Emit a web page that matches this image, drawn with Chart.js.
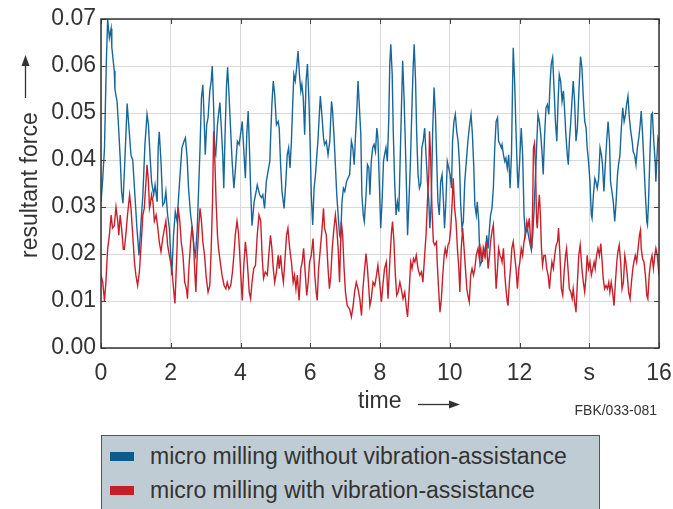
<!DOCTYPE html>
<html>
<head>
<meta charset="utf-8">
<script src="https://cdn.jsdelivr.net/npm/chart.js@4.4.1/dist/chart.umd.min.js"></script>
<style>
  html, body { margin: 0; padding: 0; background: #fff; }
  #wrap { position: relative; width: 673px; height: 509px; overflow: hidden; }
  #legendBox {
    position: absolute; left: 101px; top: 435px; width: 499px; height: 90px;
    background: #c0ccd4; border: 1px solid #555; box-sizing: border-box;
    font-family: "Liberation Sans", Arial, sans-serif; font-size: 23px; color: #333;
  }
  .swatch { position: absolute; left: 8px; width: 24px; height: 9px; }
  .label { position: absolute; left: 48px; height: 30px; line-height: 30px; white-space: nowrap; }
</style>
</head>
<body>
<div id="wrap">
  <canvas id="chart" width="673" height="509"></canvas>
  <div id="legendBox">
    <div class="swatch" style="top:16px;background:#0e5a8a"></div>
    <div class="label" style="top:5px">micro milling without vibration-assistance</div>
    <div class="swatch" style="top:50px;background:#c41e26"></div>
    <div class="label" style="top:39px">micro milling with vibration-assistance</div>
  </div>
</div>
<script>
// time in s, resultant force
const blueTime = [0.00,0.05,0.10,0.15,0.19,0.24,0.29,0.31,0.38,0.40,0.46,0.50,0.55,0.59,0.63,0.69,0.75,0.81,0.86,0.91,0.96,1.03,1.09,1.15,1.20,1.26,1.32,1.36,1.41,1.45,1.51,1.55,1.61,1.64,1.67,1.72,1.77,1.82,1.86,1.91,1.96,2.03,2.08,2.13,2.18,
  2.21,2.26,2.32,2.38,2.42,2.47,2.51,2.57,2.61,2.67,2.71,2.76,2.80,2.84,2.88,2.92,2.95,2.99,3.03,3.07,3.12,3.16,3.19,3.23,3.26,3.29,3.34,3.37,3.41,3.45,3.49,3.52,3.56,3.60,3.63,3.67,3.71,3.76,3.81,3.85,3.91,3.96,4.00,4.05,4.09,4.14,4.18,4.22,4.25,4.29,4.33,4.39,4.45,4.48,4.55,4.60,
  4.64,4.69,4.74,4.79,4.84,4.87,4.90,4.94,4.98,5.03,5.08,5.11,5.15,5.19,5.25,5.30,5.34,5.38,5.42,5.46,5.50,5.53,5.57,5.61,5.65,5.69,5.73,5.76,5.80,5.84,5.88,5.92,5.96,6.00,6.03,6.07,6.11,6.15,6.19,6.22,6.26,6.29,6.34,6.38,6.41,6.46,6.51,6.56,6.61,6.64,6.68,6.72,6.76,6.80,
  6.84,6.87,6.91,6.95,6.99,7.04,7.08,7.13,7.18,7.22,7.26,7.29,7.33,7.37,7.41,7.45,7.48,7.52,7.55,7.60,7.64,7.68,7.71,7.75,7.79,7.83,7.87,7.91,7.94,7.98,8.02,8.06,8.10,8.13,8.17,8.21,8.25,8.28,8.31,8.35,8.38,8.42,8.46,8.50,8.54,8.57,8.61,8.65,8.69,8.73,8.77,8.79,8.83,8.87,8.91,8.95,8.98,9.02,9.05,
  9.09,9.13,9.17,9.20,9.24,9.28,9.32,9.36,9.40,9.43,9.47,9.51,9.55,9.59,9.63,9.66,9.70,9.74,9.78,9.82,9.85,9.89,9.93,9.97,10.01,10.05,10.08,10.12,10.16,10.20,10.24,10.28,10.31,10.35,10.39,10.43,10.49,10.52,10.57,10.61,10.65,10.69,10.72,10.76,10.79,10.83,10.87,10.91,10.95,10.98,11.02,11.06,11.10,11.14,11.17,11.21,11.25,11.29,11.33,11.37,11.40,11.44,
  11.48,11.50,11.54,11.58,11.61,11.65,11.69,11.73,11.77,11.80,11.82,11.86,11.90,11.94,11.96,12.00,12.03,12.05,12.09,12.13,12.17,12.21,12.24,12.29,12.34,12.38,12.42,12.46,12.49,12.53,12.57,12.61,12.65,12.68,12.72,12.76,12.80,12.84,12.88,12.91,12.95,12.99,13.03,13.07,13.11,13.14,13.18,13.22,13.26,13.30,13.33,13.37,13.40,13.43,13.47,13.51,13.54,13.58,13.62,13.66,13.70,
  13.75,13.79,13.83,13.87,13.91,13.94,13.98,14.02,14.06,14.08,14.12,14.16,14.19,14.23,14.27,14.31,14.35,14.38,14.42,14.46,14.50,14.54,14.58,14.61,14.65,14.69,14.73,14.77,14.81,14.84,14.88,14.92,14.96,15.00,15.04,15.07,15.11,15.15,15.19,15.23,15.26,15.30,15.34,15.38,15.42,15.46,15.49,15.53,15.57,15.61,15.65,15.67,15.70,15.74,15.78,15.81,15.85,15.89,15.91,15.94,15.97,16.00];
const blueForce = [0.0310,0.0360,0.0425,0.0600,0.0700,0.0660,0.0680,0.0640,0.0590,0.0550,0.0525,0.0475,0.0405,0.0333,0.0308,0.0410,0.0520,0.0460,0.0410,0.0400,0.0340,0.0255,0.0197,0.0270,0.0325,0.0433,0.0497,0.0475,0.0404,0.0354,0.0326,0.0347,0.0311,0.0426,0.0460,0.0397,0.0304,0.0310,0.0333,0.0283,0.0255,0.0155,0.0240,0.0290,0.0270,
  0.0304,0.0361,0.0426,0.0440,0.0447,0.0404,0.0340,0.0283,0.0260,0.0212,0.0197,0.0255,0.0340,0.0426,0.0532,0.0560,0.0504,0.0411,0.0475,0.0490,0.0547,0.0568,0.0600,0.0511,0.0418,0.0411,0.0475,0.0497,0.0522,0.0468,0.0411,0.0340,0.0461,0.0560,0.0597,0.0540,0.0475,0.0397,0.0340,0.0376,0.0440,0.0433,0.0454,0.0482,0.0426,0.0361,0.0454,0.0504,0.0440,0.0340,0.0260,0.0311,0.0333,0.0347,0.0326,0.0320,
  0.0326,0.0297,0.0354,0.0376,0.0397,0.0461,0.0518,0.0568,0.0540,0.0475,0.0482,0.0468,0.0390,0.0333,0.0297,0.0354,0.0411,0.0426,0.0383,0.0440,0.0525,0.0582,0.0568,0.0597,0.0632,0.0582,0.0547,0.0561,0.0532,0.0454,0.0568,0.0604,0.0532,0.0426,0.0326,0.0262,0.0340,0.0369,0.0411,0.0440,0.0497,0.0536,0.0490,0.0447,0.0433,0.0440,0.0411,0.0440,0.0525,0.0504,0.0454,0.0390,0.0326,0.0283,
  0.0240,0.0233,0.0311,0.0340,0.0333,0.0354,0.0361,0.0369,0.0440,0.0426,0.0390,0.0440,0.0497,0.0568,0.0511,0.0454,0.0326,0.0283,0.0269,0.0326,0.0390,0.0383,0.0326,0.0397,0.0426,0.0433,0.0418,0.0468,0.0447,0.0354,0.0255,0.0311,0.0397,0.0411,0.0426,0.0397,0.0482,0.0604,0.0646,0.0582,0.0461,0.0354,0.0283,0.0311,0.0290,0.0376,0.0497,0.0611,0.0532,0.0426,0.0311,0.0240,0.0311,0.0390,0.0497,0.0597,0.0646,0.0568,0.0461,
  0.0370,0.0340,0.0350,0.0426,0.0440,0.0468,0.0411,0.0354,0.0311,0.0255,0.0311,0.0461,0.0554,0.0497,0.0390,0.0311,0.0283,0.0354,0.0369,0.0311,0.0255,0.0311,0.0397,0.0383,0.0369,0.0340,0.0440,0.0482,0.0497,0.0461,0.0440,0.0390,0.0311,0.0255,0.0269,0.0354,0.0411,0.0440,0.0475,0.0497,0.0454,0.0383,0.0304,0.0283,0.0311,0.0269,0.0176,0.0183,0.0197,0.0212,0.0197,0.0240,0.0212,0.0255,0.0283,0.0297,0.0340,0.0426,0.0482,0.0490,0.0440,0.0433,
  0.0426,0.0433,0.0411,0.0397,0.0404,0.0383,0.0411,0.0340,0.0411,0.0554,0.0639,0.0568,0.0461,0.0369,0.0340,0.0390,0.0440,0.0468,0.0411,0.0283,0.0240,0.0255,0.0247,0.0226,0.0208,0.0240,0.0297,0.0369,0.0426,0.0497,0.0482,0.0454,0.0411,0.0369,0.0454,0.0511,0.0518,0.0497,0.0568,0.0604,0.0618,0.0554,0.0482,0.0440,0.0532,0.0582,0.0568,0.0525,0.0547,0.0497,0.0454,0.0411,0.0390,0.0440,0.0482,0.0532,0.0568,0.0525,0.0440,0.0468,0.0540,
  0.0620,0.0597,0.0532,0.0482,0.0468,0.0426,0.0397,0.0354,0.0283,0.0276,0.0326,0.0361,0.0354,0.0340,0.0361,0.0426,0.0411,0.0390,0.0333,0.0390,0.0440,0.0482,0.0440,0.0354,0.0333,0.0311,0.0269,0.0311,0.0369,0.0390,0.0411,0.0468,0.0511,0.0482,0.0497,0.0518,0.0536,0.0490,0.0461,0.0440,0.0418,0.0411,0.0390,0.0426,0.0447,0.0475,0.0504,0.0454,0.0390,0.0326,0.0269,0.0262,0.0311,0.0411,0.0497,0.0500,0.0440,0.0397,0.0354,0.0404,0.0447,0.0440];

const redTime = [0.00,0.05,0.10,0.14,0.19,0.24,0.29,0.33,0.38,0.43,0.48,0.51,0.55,0.59,0.64,0.67,0.72,0.76,0.82,0.86,0.91,0.96,1.00,1.05,1.10,1.15,1.20,1.24,1.29,1.32,1.36,1.39,1.41,1.45,1.49,1.53,1.58,1.63,1.67,1.72,1.77,1.82,1.86,1.91,1.96,2.03,2.08,2.12,2.18,
  2.21,2.26,2.30,2.35,2.40,2.45,2.48,2.52,2.57,2.61,2.65,2.69,2.72,2.75,2.80,2.84,2.88,2.92,2.97,3.02,3.07,3.12,3.16,3.20,3.23,3.26,3.30,3.34,3.37,3.42,3.47,3.53,3.58,3.62,3.67,3.72,3.77,3.81,3.85,3.90,3.94,3.98,4.02,4.05,4.09,4.14,4.18,4.22,4.25,4.29,4.33,4.38,4.43,4.48,4.53,4.58,
  4.62,4.66,4.71,4.77,4.81,4.86,4.90,4.94,4.98,5.03,5.08,5.11,5.15,5.19,5.23,5.27,5.32,5.36,5.41,5.46,5.51,5.55,5.59,5.63,5.68,5.73,5.77,5.81,5.86,5.90,5.94,5.98,6.03,6.08,6.13,6.17,6.20,6.24,6.29,6.34,6.38,6.41,6.46,6.51,6.55,6.59,6.63,6.68,6.72,6.76,6.80,6.84,
  6.89,6.93,6.97,7.01,7.06,7.13,7.18,7.23,7.27,7.32,7.37,7.42,7.47,7.51,7.56,7.60,7.64,7.68,7.71,7.75,7.80,7.85,7.90,7.94,7.99,8.04,8.09,8.13,8.18,8.23,8.28,8.33,8.36,8.40,8.44,8.48,8.52,8.57,8.61,8.66,8.71,8.76,8.79,8.84,8.88,8.92,8.96,9.00,9.04,
  9.09,9.14,9.19,9.23,9.28,9.32,9.36,9.40,9.42,9.45,9.49,9.53,9.57,9.62,9.64,9.68,9.72,9.76,9.80,9.84,9.87,9.91,9.95,9.99,10.03,10.07,10.10,10.14,10.18,10.22,10.26,10.29,10.33,10.37,10.41,10.45,10.49,10.52,10.56,10.60,10.64,10.68,10.72,10.76,10.81,10.85,10.89,10.93,10.96,11.00,11.05,11.10,11.14,11.17,11.21,11.25,11.29,11.33,11.37,11.40,11.44,
  11.48,11.50,11.54,11.58,11.61,11.65,11.67,11.71,11.75,11.78,11.82,11.86,11.90,11.94,11.98,12.01,12.05,12.09,12.13,12.17,12.21,12.24,12.28,12.32,12.35,12.38,12.40,12.43,12.46,12.49,12.51,12.54,12.57,12.60,12.63,12.66,12.70,12.74,12.78,12.82,12.86,12.89,12.93,12.97,13.01,13.05,13.09,13.12,13.16,13.20,13.24,13.28,13.32,13.35,13.39,13.43,13.47,13.51,13.54,13.58,13.62,13.66,13.70,13.74,
  13.79,13.83,13.87,13.91,13.94,13.98,14.02,14.06,14.10,14.14,14.17,14.21,14.25,14.29,14.33,14.37,14.40,14.44,14.48,14.52,14.56,14.59,14.63,14.67,14.71,14.75,14.79,14.82,14.86,14.90,14.94,14.98,15.02,15.05,15.09,15.13,15.17,15.21,15.25,15.28,15.32,15.36,15.40,15.44,15.47,15.49,15.53,15.57,15.61,15.65,15.68,15.72,15.76,15.80,15.84,15.88,15.91,15.95,16.00];
const redForce = [0.0155,0.0140,0.0100,0.0140,0.0210,0.0240,0.0283,0.0255,0.0260,0.0300,0.0270,0.0240,0.0283,0.0255,0.0210,0.0210,0.0247,0.0283,0.0326,0.0297,0.0240,0.0183,0.0155,0.0133,0.0162,0.0219,0.0283,0.0297,0.0354,0.0390,0.0354,0.0297,0.0304,0.0326,0.0311,0.0270,0.0283,0.0255,0.0226,0.0205,0.0233,0.0255,0.0270,0.0219,0.0197,0.0169,0.0126,0.0095,0.0210,
  0.0300,0.0270,0.0226,0.0197,0.0140,0.0126,0.0105,0.0169,0.0226,0.0260,0.0226,0.0162,0.0119,0.0183,0.0255,0.0297,0.0270,0.0226,0.0197,0.0148,0.0119,0.0133,0.0212,0.0319,0.0461,0.0411,0.0311,0.0240,0.0212,0.0183,0.0155,0.0133,0.0126,0.0140,0.0126,0.0133,0.0162,0.0197,0.0240,0.0270,0.0247,0.0197,0.0140,0.0101,0.0169,0.0226,0.0197,0.0155,0.0119,0.0105,0.0140,0.0169,0.0176,0.0240,0.0283,0.0270,
  0.0197,0.0148,0.0162,0.0155,0.0197,0.0240,0.0212,0.0169,0.0140,0.0162,0.0197,0.0169,0.0197,0.0162,0.0140,0.0183,0.0240,0.0255,0.0212,0.0183,0.0140,0.0155,0.0126,0.0155,0.0101,0.0169,0.0183,0.0212,0.0155,0.0112,0.0140,0.0183,0.0197,0.0233,0.0155,0.0119,0.0101,0.0169,0.0212,0.0255,0.0297,0.0255,0.0240,0.0169,0.0126,0.0155,0.0212,0.0255,0.0283,0.0255,0.0212,0.0140,
  0.0269,0.0240,0.0169,0.0119,0.0090,0.0083,0.0066,0.0090,0.0119,0.0140,0.0126,0.0105,0.0069,0.0126,0.0169,0.0201,0.0169,0.0126,0.0090,0.0105,0.0140,0.0133,0.0155,0.0176,0.0140,0.0098,0.0140,0.0169,0.0183,0.0105,0.0183,0.0247,0.0269,0.0226,0.0155,0.0112,0.0119,0.0140,0.0126,0.0105,0.0119,0.0083,0.0066,0.0126,0.0183,0.0169,0.0190,0.0183,0.0197,
  0.0169,0.0155,0.0162,0.0140,0.0197,0.0240,0.0311,0.0369,0.0461,0.0411,0.0297,0.0226,0.0219,0.0226,0.0183,0.0126,0.0076,0.0105,0.0155,0.0197,0.0212,0.0197,0.0219,0.0226,0.0255,0.0311,0.0361,0.0297,0.0269,0.0212,0.0169,0.0119,0.0212,0.0255,0.0212,0.0169,0.0126,0.0112,0.0098,0.0155,0.0169,0.0155,0.0169,0.0197,0.0212,0.0190,0.0212,0.0183,0.0212,0.0197,0.0226,0.0169,0.0197,0.0226,0.0247,0.0262,0.0197,0.0126,0.0169,0.0212,0.0197,
  0.0190,0.0183,0.0212,0.0155,0.0126,0.0098,0.0090,0.0140,0.0176,0.0212,0.0226,0.0197,0.0169,0.0126,0.0169,0.0183,0.0212,0.0197,0.0226,0.0247,0.0269,0.0255,0.0276,0.0226,0.0212,0.0311,0.0426,0.0436,0.0383,0.0269,0.0255,0.0297,0.0326,0.0283,0.0212,0.0176,0.0197,0.0197,0.0169,0.0155,0.0126,0.0155,0.0183,0.0169,0.0197,0.0219,0.0226,0.0255,0.0197,0.0126,0.0112,0.0162,0.0197,0.0212,0.0169,0.0126,0.0119,0.0105,0.0126,0.0098,0.0076,0.0140,0.0197,0.0219,
  0.0169,0.0140,0.0119,0.0155,0.0197,0.0169,0.0183,0.0155,0.0169,0.0183,0.0169,0.0197,0.0212,0.0197,0.0222,0.0183,0.0148,0.0126,0.0133,0.0126,0.0140,0.0119,0.0140,0.0119,0.0090,0.0140,0.0183,0.0204,0.0219,0.0183,0.0126,0.0140,0.0197,0.0183,0.0155,0.0119,0.0105,0.0140,0.0169,0.0183,0.0197,0.0183,0.0212,0.0240,0.0251,0.0212,0.0190,0.0183,0.0155,0.0112,0.0105,0.0155,0.0183,0.0197,0.0169,0.0197,0.0212,0.0197,0.0155];

const xMin = 0, xMax = 16, xStep = 2;
const yMin = 0, yMax = 0.07, yStep = 0.01;

function toPoints(times, values) {
  return times.map((t, i) => ({ x: t, y: values[i] }));
}

const textColor = '#333';
const fontFamily = '"Liberation Sans", Arial, sans-serif';

/* frame, inner tick marks and axis titles with arrows */
const framePlugin = {
  id: 'frame',
  afterDraw(chart) {
    const ctx = chart.ctx;
    const a = chart.chartArea;
    const xs = chart.scales.x, ys = chart.scales.y;
    ctx.save();
    ctx.strokeStyle = '#444';
    ctx.lineWidth = 1;
    ctx.beginPath();
    xs.ticks.forEach(t => {
      const px = Math.round(xs.getPixelForValue(t.value)) + 0.5;
      ctx.moveTo(px, a.top); ctx.lineTo(px, a.top + 5);
      ctx.moveTo(px, a.bottom); ctx.lineTo(px, a.bottom - 5);
    });
    ys.ticks.forEach(t => {
      const py = Math.round(ys.getPixelForValue(t.value)) + 0.5;
      ctx.moveTo(a.left, py); ctx.lineTo(a.left + 5, py);
      ctx.moveTo(a.right, py); ctx.lineTo(a.right - 5, py);
    });
    ctx.stroke();
    ctx.strokeStyle = '#333';
    ctx.lineWidth = 1.5;
    ctx.strokeRect(a.left, a.top, a.right - a.left, a.bottom - a.top);

    ctx.fillStyle = textColor;
    ctx.font = '23px ' + fontFamily;
    // y title
    ctx.save();
    ctx.translate(31, 258);
    ctx.rotate(-Math.PI / 2);
    ctx.textAlign = 'left';
    ctx.textBaseline = 'middle';
    ctx.fillText('resultant force', 0, 0);
    ctx.restore();
    ctx.lineWidth = 1.3;
    ctx.beginPath();
    ctx.moveTo(25.5, 98); ctx.lineTo(25.5, 64);
    ctx.stroke();
    ctx.beginPath();
    ctx.moveTo(25.5, 55); ctx.lineTo(21.5, 66); ctx.lineTo(29.5, 66); ctx.closePath();
    ctx.fill();
    // x title
    ctx.textAlign = 'left';
    ctx.textBaseline = 'middle';
    ctx.fillText('time', 358, 402);
    ctx.beginPath();
    ctx.moveTo(418, 404.5); ctx.lineTo(450, 404.5);
    ctx.stroke();
    ctx.beginPath();
    ctx.moveTo(460, 404.5); ctx.lineTo(449, 400.5); ctx.lineTo(449, 408.5); ctx.closePath();
    ctx.fill();
    // figure code
    ctx.font = '14px ' + fontFamily;
    ctx.textAlign = 'right';
    ctx.fillText('FBK/033-081', 657, 411);
    ctx.restore();
  }
};

new Chart(document.getElementById('chart'), {
  type: 'line',
  data: {
    datasets: [
      {
        label: 'micro milling without vibration-assistance',
        data: toPoints(blueTime, blueForce),
        borderColor: '#18679a',
        borderWidth: 1.4,
        pointRadius: 0,
        tension: 0,
        order: 2
      },
      {
        label: 'micro milling with vibration-assistance',
        data: toPoints(redTime, redForce),
        borderColor: '#c8202b',
        borderWidth: 1.4,
        pointRadius: 0,
        tension: 0,
        order: 1
      }
    ]
  },
  options: {
    responsive: false,
    animation: false,
    layout: { padding: { left: 0, right: 14, top: 19, bottom: 121 } },
    plugins: { legend: { display: false }, tooltip: { enabled: false } },
    scales: {
      x: {
        type: 'linear', min: xMin, max: xMax,
        ticks: {
          stepSize: xStep, autoSkip: false, maxRotation: 0,
          color: textColor, font: { family: fontFamily, size: 23 }, padding: 12,
          callback: v => (v === 14 ? 's' : v)
        },
        grid: { color: '#d9d9d9', drawTicks: false },
        border: { display: false },
        afterFit: s => { s.height = 40; s.paddingLeft = 0; s.paddingRight = 0; }
      },
      y: {
        min: yMin, max: yMax,
        ticks: {
          stepSize: yStep, color: textColor, font: { family: fontFamily, size: 23 }, padding: 5,
          callback: v => v.toFixed(2)
        },
        grid: { color: '#d9d9d9', drawTicks: false },
        border: { display: false },
        afterFit: s => { s.width = 101; s.paddingTop = 0; s.paddingBottom = 0; }
      }
    }
  },
  plugins: [framePlugin]
});
</script>
</body>
</html>
